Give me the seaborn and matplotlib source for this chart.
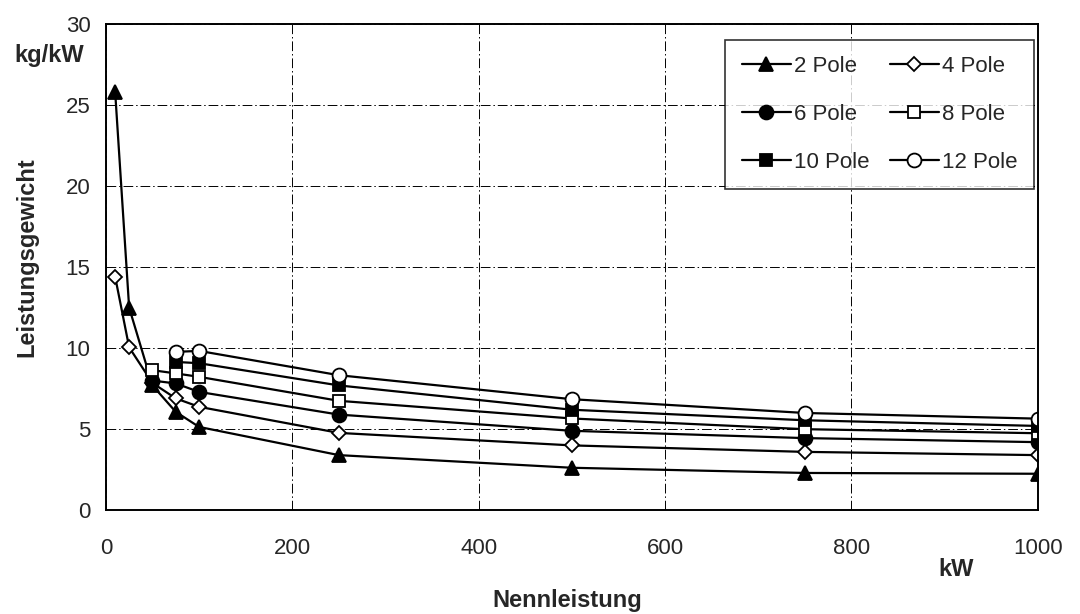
import numpy as np
import pandas as pd
import matplotlib
matplotlib.use("Agg")
import matplotlib.pyplot as plt
import seaborn as sns

# Rated power (kW) and power-to-weight ratio (kg/kW) per pole count
power_kw = [10, 25, 50, 75, 100, 250, 500, 750, 1000]
pole_2 = [25.8, 12.5, 7.7, 6.07, 5.14, 3.4, 2.62, 2.3, 2.25]
pole_4 = [14.4, 10.05, 7.85, 6.9, 6.38, 4.77, 4.0, 3.6, 3.4]
pole_6 = [np.nan, np.nan, 8.0, 7.82, 7.3, 5.9, 4.9, 4.45, 4.2]
pole_8 = [np.nan, np.nan, 8.64, 8.44, 8.23, 6.75, 5.66, 5.0, 4.75]
pole_10 = [np.nan, np.nan, np.nan, 9.15, 9.07, 7.7, 6.2, 5.55, 5.2]
pole_12 = [np.nan, np.nan, np.nan, 9.77, 9.83, 8.33, 6.85, 6.0, 5.65]

series_labels = ["2 Pole", "4 Pole", "6 Pole", "8 Pole", "10 Pole", "12 Pole"]
series_values = [pole_2, pole_4, pole_6, pole_8, pole_10, pole_12]

x_ticks = [0, 200, 400, 600, 800, 1000]
y_ticks = [0, 5, 10, 15, 20, 25, 30]

sns.set_style("white")
plt.rcParams["font.family"] = ["Liberation Sans", "DejaVu Sans"]

styles = {
    "2 Pole": dict(marker="^", mfc="black", ms=10),
    "4 Pole": dict(marker="D", mfc="white", ms=7.5),
    "6 Pole": dict(marker="o", mfc="black", ms=10),
    "8 Pole": dict(marker="s", mfc="white", ms=9),
    "10 Pole": dict(marker="s", mfc="black", ms=9),
    "12 Pole": dict(marker="o", mfc="white", ms=10),
}

rows = []
for lab, vals in zip(series_labels, series_values):
    for x, y in zip(power_kw, vals):
        if not np.isnan(y):
            rows.append({"kW": x, "w": y, "Pole": lab})
df = pd.DataFrame(rows)

fig = plt.figure(figsize=(10.8, 6.14), dpi=100)
ax = fig.add_axes([0.098, 0.169, 0.863, 0.792])

for lab in series_labels:
    sub = df[df["Pole"] == lab]
    st = styles[lab]
    sns.lineplot(data=sub, x="kW", y="w", ax=ax, color="black", lw=1.6,
                 marker=st["marker"], markersize=st["ms"],
                 markerfacecolor=st["mfc"], markeredgecolor="black",
                 markeredgewidth=1.3, label=lab, sort=False)

ax.set_xlim(0, 1000)
ax.set_ylim(0, 30)
ax.set_xticks(x_ticks)
ax.set_yticks(y_ticks)
ax.tick_params(axis="both", labelsize=16, length=6, width=1.2,
               direction="out", color="black")
ax.tick_params(axis="x", pad=14)
ax.tick_params(axis="y", pad=5)
ax.grid(True, color="black", linestyle=(0, (10, 3, 1.5, 3)), linewidth=0.7)
for sp in ax.spines.values():
    sp.set_color("black")
    sp.set_linewidth(1.4)
    sp.set_visible(True)

ax.set_xlabel("")
ax.set_ylabel("Leistungsgewicht", fontsize=17, fontweight="bold")
ax.yaxis.set_label_coords(-0.072, 0.52)
fig.text(0.525, 0.022, "Nennleistung", ha="center", va="center",
         fontsize=17, fontweight="bold")
fig.text(0.885, 0.072, "kW", ha="center", va="center",
         fontsize=17, fontweight="bold")
fig.text(0.046, 0.91, "kg/kW", ha="center", va="center",
         fontsize=17, fontweight="bold")

h, l = ax.get_legend_handles_labels()
order = [0, 2, 4, 1, 3, 5]
leg = ax.legend([h[i] for i in order], [l[i] for i in order], ncol=2,
                loc="upper right", bbox_to_anchor=(0.996, 0.968),
                fontsize=16, frameon=True, fancybox=False, edgecolor="black",
                handlelength=2.2, columnspacing=0.9, labelspacing=1.2,
                borderpad=0.75, handletextpad=0.15, borderaxespad=0.0)
leg.get_frame().set_linewidth(1.2)

fig.savefig("out.png", dpi=100, facecolor="white")
